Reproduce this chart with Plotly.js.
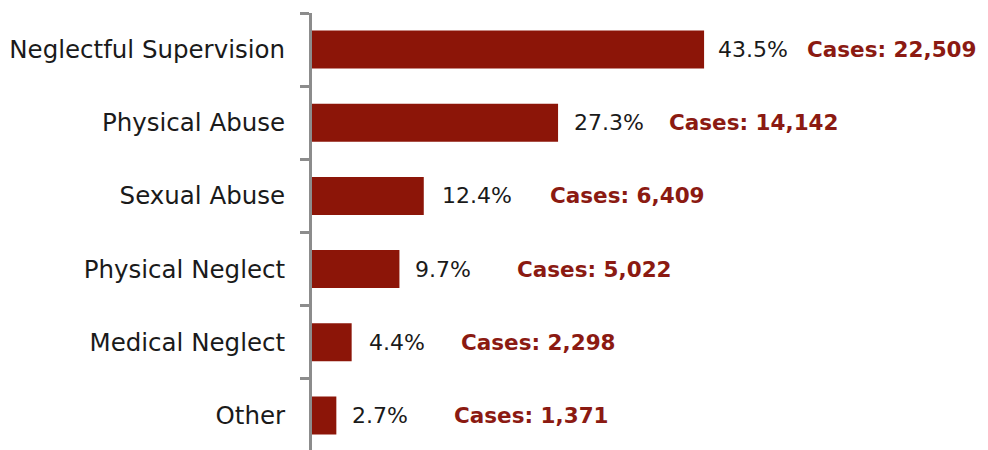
<!DOCTYPE html>
<html>
<head>
<meta charset="utf-8">
<script src="https://cdn.plot.ly/plotly-3.0.1.min.js"></script>
<style>
  html, body { margin: 0; padding: 0; background: #ffffff; overflow: hidden; }
  #chart { width: 988px; height: 452px; }
</style>
</head>
<body>
<div id="chart"></div>
<script>
// ---- data ----
const categories = ["Neglectful Supervision", "Physical Abuse", "Sexual Abuse", "Physical Neglect", "Medical Neglect", "Other"];
const percentValues = [43.5, 27.3, 12.4, 9.7, 4.4, 2.7];
const caseCounts = [22509, 14142, 6409, 5022, 2298, 1371];

// ---- styling (pixel offsets of labels from bar ends) ----
const pctShift = [13, 15, 17, 15, 16, 15];
const casesShift = [102, 110, 125, 117, 108, 117];

const barColor = "#8C1508";
const casesColor = "#8B1A12";
const axisGray = "#8C8C8C";

const annotations = [];
categories.forEach((cat, i) => {
  annotations.push({
    x: percentValues[i], y: cat, xref: "x", yref: "y",
    text: percentValues[i].toFixed(1) + "%",
    showarrow: false, xanchor: "left", yanchor: "middle",
    xshift: pctShift[i], borderpad: 0,
    font: { family: "DejaVu Sans", size: 22, color: "#1a1a1a" }
  });
  annotations.push({
    x: percentValues[i], y: cat, xref: "x", yref: "y",
    text: "<b>Cases: " + caseCounts[i].toLocaleString("en-US") + "</b>",
    showarrow: false, xanchor: "left", yanchor: "middle",
    xshift: casesShift[i], borderpad: 0,
    font: { family: "DejaVu Sans", size: 21.5, color: casesColor }
  });
});

const trace = {
  type: "bar",
  orientation: "h",
  x: percentValues,
  y: categories,
  width: 0.52,
  marker: { color: barColor },
  hoverinfo: "skip"
};

const layout = {
  width: 988,
  height: 452,
  margin: { l: 312, r: 0, t: 13, b: 0, pad: 0 },
  paper_bgcolor: "#ffffff",
  plot_bgcolor: "#ffffff",
  showlegend: false,
  xaxis: {
    range: [0, 75],
    visible: false,
    showgrid: false,
    zeroline: false
  },
  yaxis: {
    type: "category",
    autorange: "reversed",
    showline: true,
    linecolor: axisGray,
    linewidth: 3,
    ticks: "outside",
    tickson: "boundaries",
    ticklen: 9,
    tickwidth: 3,
    tickcolor: axisGray,
    ticklabelstandoff: 19,
    showgrid: false,
    zeroline: false,
    tickfont: { family: "DejaVu Sans", size: 24.5, color: "#1a1a1a" }
  },
  annotations: annotations
};

Plotly.newPlot("chart", [trace], layout, { staticPlot: true, displayModeBar: false });
</script>
</body>
</html>
